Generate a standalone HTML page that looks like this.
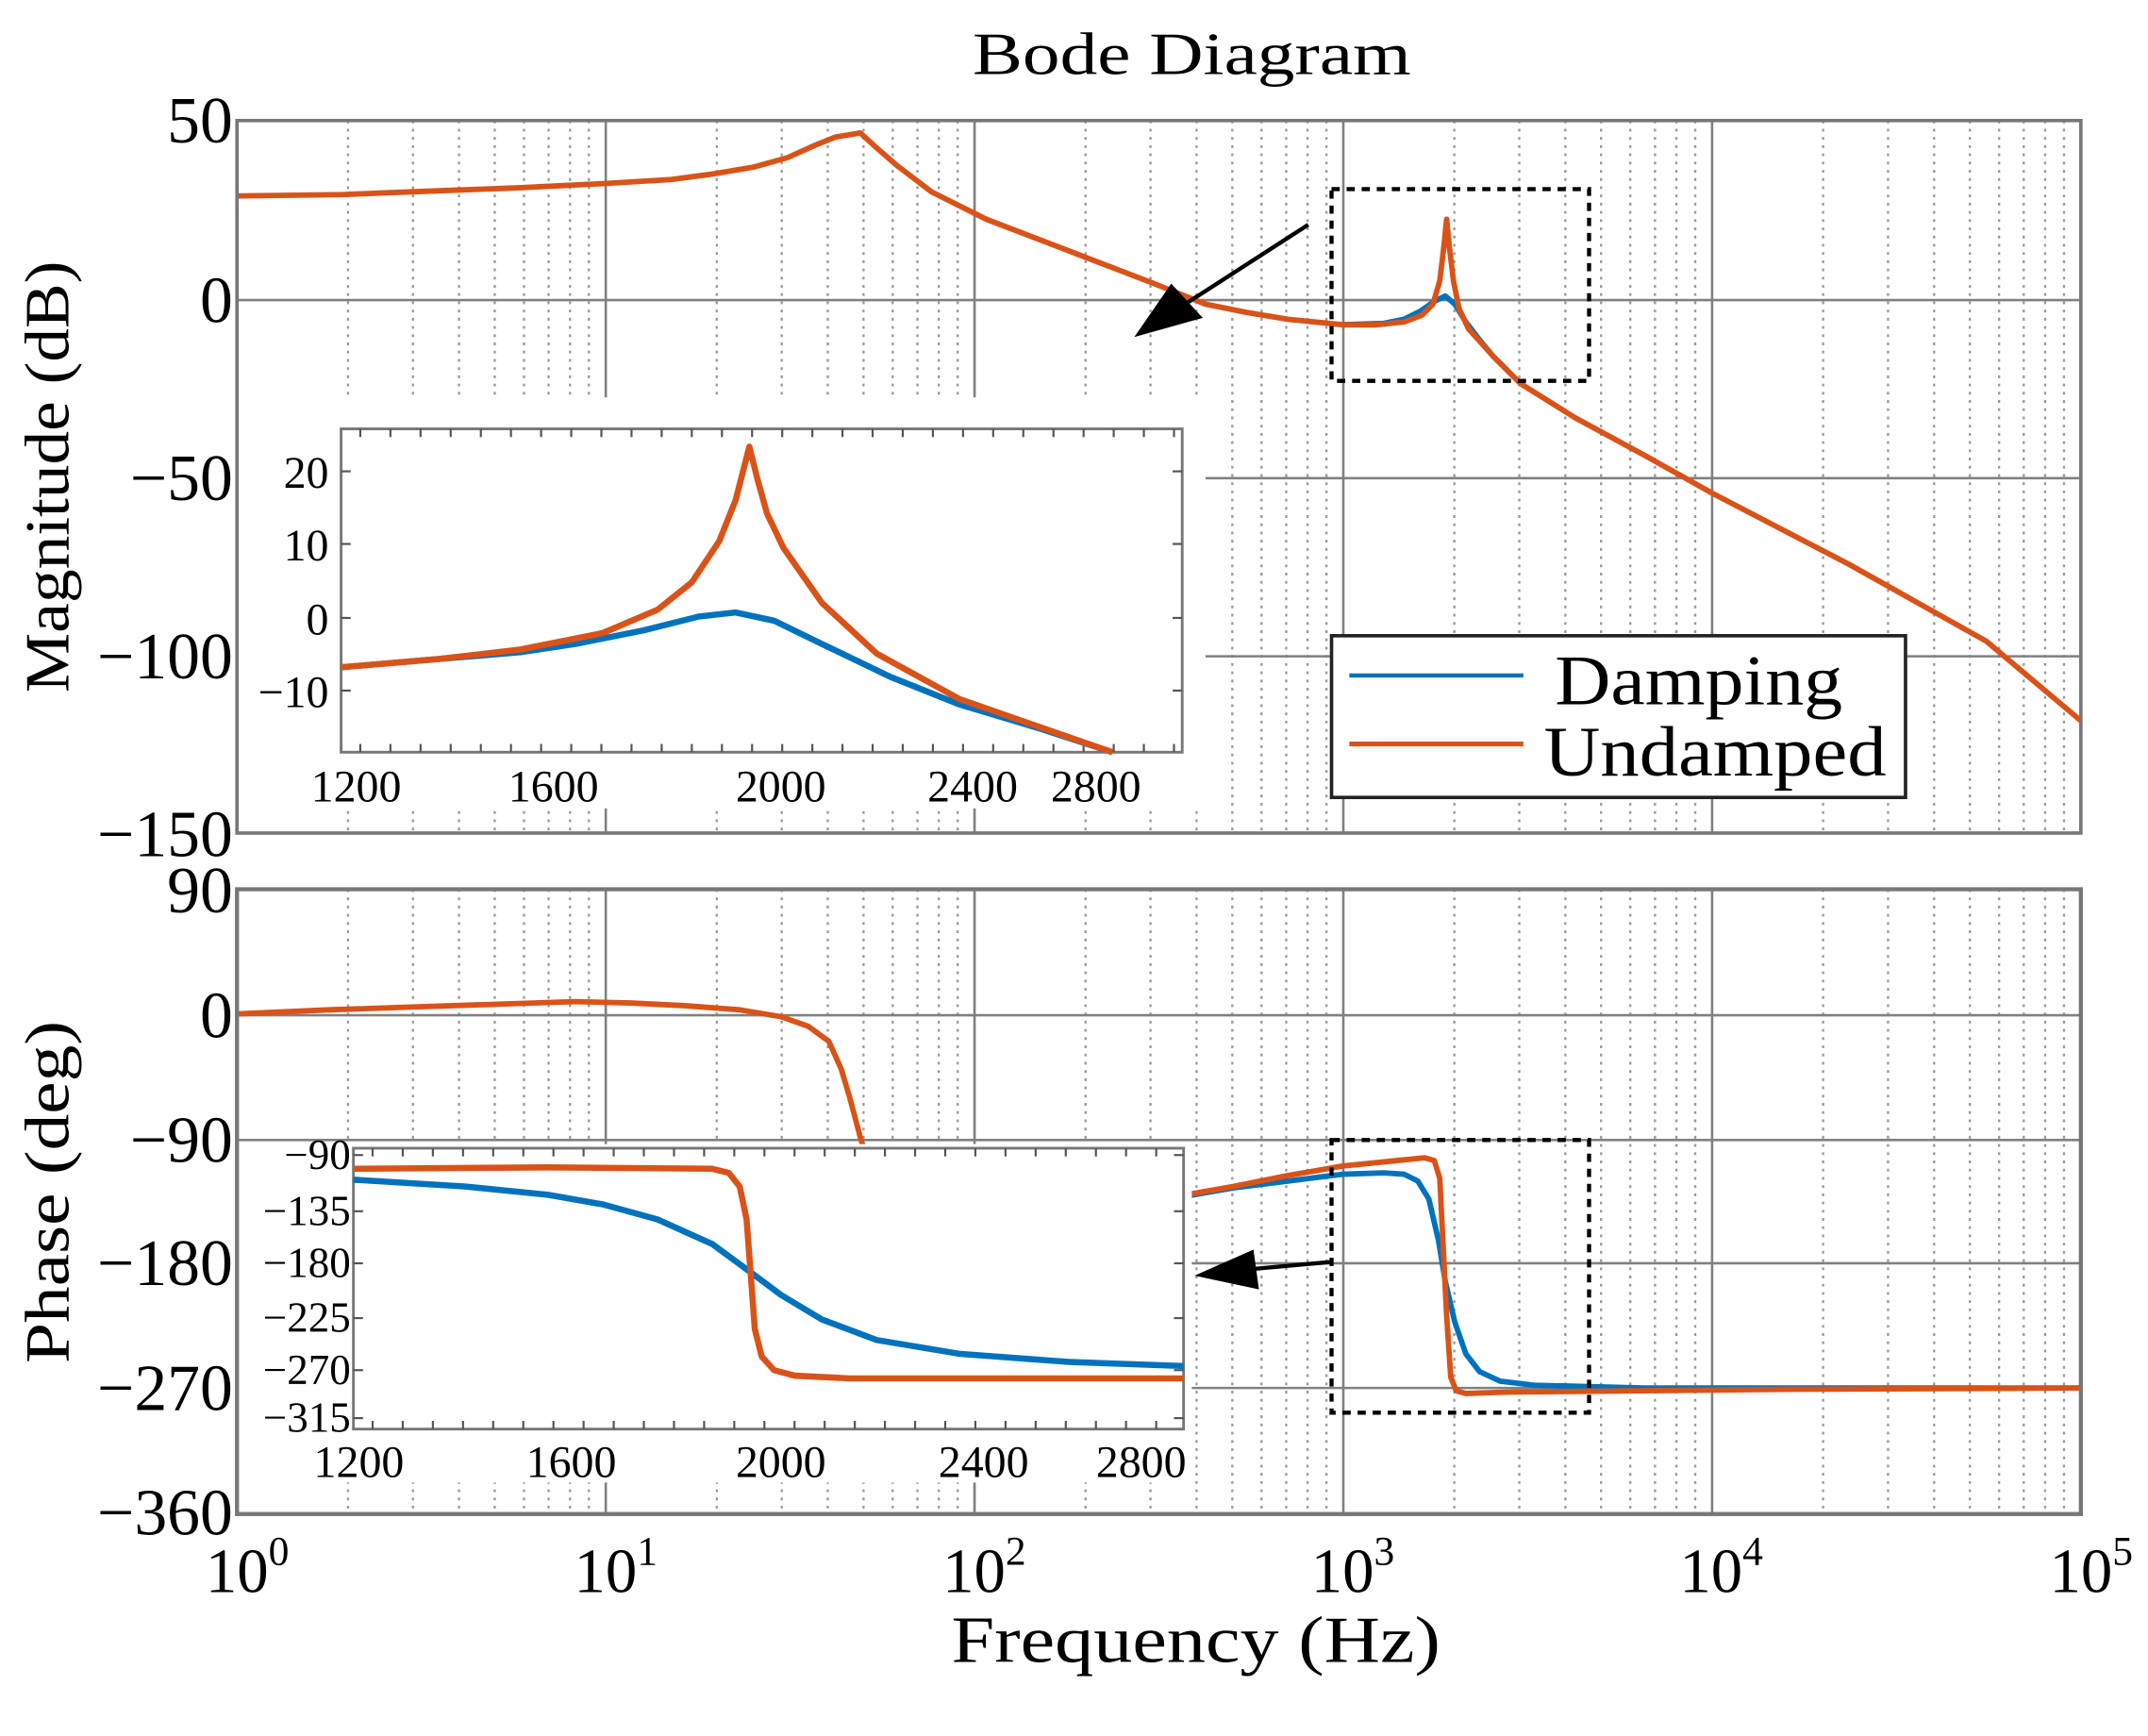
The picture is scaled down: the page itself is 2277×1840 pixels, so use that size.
<!DOCTYPE html>
<html><head><meta charset="utf-8"><style>html,body{margin:0;padding:0;background:#fff}svg{display:block}</style></head>
<body>
<svg id="s" xmlns="http://www.w3.org/2000/svg" width="2277" height="1840" viewBox="0 0 1568 1267" preserveAspectRatio="none" font-family="Liberation Serif, serif">
<rect width="1568" height="1267" fill="#fff"/>
<g id="grid"></g>
<polyline fill="none" stroke="#0072BD" stroke-width="4" stroke-linejoin="round" points="980,237 1010,236 1025,233 1037,227 1047,220 1055,216 1062,222 1070,235 1080,248 1090,260 1110,280"/>
<polyline fill="none" stroke="#D95319" stroke-width="4" stroke-linejoin="round" points="173,143 250,142 300,140 380,137 440,134 490,131 520,127 550,122 575,115 595,106 610,100 628,97 640,108 655,121 680,140 720,160 780,183 840,206 880,222 910,228 940,233 980,237 1005,237 1025,235 1038,230 1046,222 1051,205 1054,180 1056,160 1058,180 1061,205 1065,225 1072,240 1090,260 1110,280 1150,305 1200,332 1250,360 1300,386 1350,412 1400,440 1450,468 1519,526"/>
<polyline fill="none" stroke="#0072BD" stroke-width="4" stroke-linejoin="round" points="860,874 900,867 940,862 980,857 1010,856 1025,857 1035,862 1043,875 1050,905 1055,935 1062,965 1070,988 1080,1001 1095,1008 1120,1011 1200,1013 1519,1013"/>
<polyline fill="none" stroke="#D95319" stroke-width="4" stroke-linejoin="round" points="173,740 240,737 300,735 360,733 420,731 460,732 500,734 540,737 570,742 590,749 605,760 614,780 620,800 628,830 640,870 860,873 900,866 940,858 980,851 1020,847 1040,845 1047,847 1051,860 1053,900 1056,960 1059,1005 1063,1015 1070,1017 1100,1016 1300,1014 1519,1013"/>
<rect x="173" y="290" width="707" height="300" fill="#fff"/>
<rect x="249" y="313" width="614" height="236" fill="#fff" stroke="#777" stroke-width="2"/>
<g id="t1"></g>
<polyline fill="none" stroke="#0072BD" stroke-width="4.5" stroke-linejoin="round" points="249,487 320,481 380,476 420,470 470,460 510,450 537,447 565,453 600,470 650,494 700,514 760,532 812,549"/>
<polyline fill="none" stroke="#D95319" stroke-width="4.5" stroke-linejoin="round" points="249,487 320,481 380,474 440,462 480,445 505,425 525,395 537,365 547,326 553,350 560,375 572,400 600,440 640,477 700,510 760,531 812,549"/>
<g font-size="33" fill="#000" text-anchor="end">
<text x="240" y="356">20</text><text x="240" y="409">10</text><text x="240" y="463">0</text><text x="240" y="516">−10</text>
</g>
<g font-size="33" fill="#000" text-anchor="middle">
<text x="260" y="585">1200</text><text x="404" y="585">1600</text><text x="570" y="585">2000</text><text x="710" y="585">2400</text><text x="800" y="585">2800</text>
</g>
<rect x="173" y="835" width="697" height="247" fill="#fff"/>
<rect x="258" y="838" width="606" height="205" fill="#fff" stroke="#777" stroke-width="2"/>
<g id="t2"></g>
<polyline fill="none" stroke="#0072BD" stroke-width="4.5" stroke-linejoin="round" points="258,861 340,866 400,872 440,879 480,890 520,908 550,930 570,945 600,963 640,978 700,988 780,994 864,997"/>
<polyline fill="none" stroke="#D95319" stroke-width="4.5" stroke-linejoin="round" points="258,853 400,852 520,853 532,856 540,866 545,890 548,930 551,970 556,990 565,1000 580,1004 620,1006 864,1006"/>
<g font-size="31" fill="#000" text-anchor="end">
<text x="256" y="853">−90</text><text x="256" y="894">−135</text><text x="256" y="932">−180</text><text x="256" y="972">−225</text><text x="256" y="1010">−270</text><text x="256" y="1045">−315</text>
</g>
<g font-size="33" fill="#000" text-anchor="middle">
<text x="262" y="1078">1200</text><text x="417" y="1078">1600</text><text x="570" y="1078">2000</text><text x="718" y="1078">2400</text><text x="833" y="1078">2800</text>
</g>
<rect x="173" y="88" width="1346" height="520" fill="none" stroke="#777" stroke-width="2.5"/>
<rect x="173" y="649" width="1346" height="456" fill="none" stroke="#777" stroke-width="3"/>
<rect x="972" y="138" width="188" height="140" fill="none" stroke="#000" stroke-width="3" stroke-dasharray="6,5"/>
<rect x="972" y="832" width="188" height="199" fill="none" stroke="#000" stroke-width="3" stroke-dasharray="6,5"/>
<line x1="955" y1="164" x2="862" y2="224" stroke="#000" stroke-width="3"/>
<polygon points="828,246 855,207 878,232" fill="#000"/>
<line x1="972" y1="921" x2="905" y2="927" stroke="#000" stroke-width="3"/>
<polygon points="872,931 915,912 919,941" fill="#000"/>
<rect x="972" y="464" width="419" height="118" fill="#fff" stroke="#222" stroke-width="2.5"/>
<line x1="985" y1="493" x2="1112" y2="493" stroke="#0072BD" stroke-width="3"/>
<line x1="985" y1="543" x2="1112" y2="543" stroke="#D95319" stroke-width="3.5"/>
<text x="1135" y="514" font-size="52" textLength="210" lengthAdjust="spacingAndGlyphs">Damping</text>
<text x="1127" y="566" font-size="52" textLength="250" lengthAdjust="spacingAndGlyphs">Undamped</text>
<text x="870" y="54" font-size="44" text-anchor="middle" textLength="320" lengthAdjust="spacingAndGlyphs">Bode Diagram</text>
<text x="873" y="1213" font-size="48" text-anchor="middle" textLength="357" lengthAdjust="spacingAndGlyphs">Frequency  (Hz)</text>
<text transform="translate(50,348) rotate(-90)" font-size="46" text-anchor="middle" textLength="315" lengthAdjust="spacingAndGlyphs">Magnitude (dB)</text>
<text transform="translate(50,870) rotate(-90)" font-size="46" text-anchor="middle" textLength="250" lengthAdjust="spacingAndGlyphs">Phase (deg)</text>
<g font-size="48" text-anchor="end">
<text x="170" y="104">50</text><text x="170" y="235">0</text><text x="170" y="365">−50</text><text x="170" y="495">−100</text><text x="170" y="625">−150</text>
<text x="170" y="666">90</text><text x="170" y="757">0</text><text x="170" y="848">−90</text><text x="170" y="938">−180</text><text x="170" y="1029">−270</text><text x="170" y="1120">−360</text>
</g>
<g font-size="46">
<text x="150" y="1162">10<tspan font-size="30" dy="-20">0</tspan></text>
<text x="419" y="1162">10<tspan font-size="30" dy="-20">1</tspan></text>
<text x="688" y="1162">10<tspan font-size="30" dy="-20">2</tspan></text>
<text x="957" y="1162">10<tspan font-size="30" dy="-20">3</tspan></text>
<text x="1226" y="1162">10<tspan font-size="30" dy="-20">4</tspan></text>
<text x="1496" y="1162">10<tspan font-size="30" dy="-20">5</tspan></text>
</g>
<script>
(function(){
var NS="http://www.w3.org/2000/svg";
function L(g,x1,y1,x2,y2,c,w,d){var l=document.createElementNS(NS,"line");l.setAttribute("x1",x1);l.setAttribute("y1",y1);l.setAttribute("x2",x2);l.setAttribute("y2",y2);l.setAttribute("stroke",c);l.setAttribute("stroke-width",w);if(d)l.setAttribute("stroke-dasharray",d);g.appendChild(l);}
var g=document.getElementById("grid");
var x0=173,dec=269.2;
[[88,608],[649,1105]].forEach(function(r){
 for(var k=0;k<5;k++){for(var m=2;m<10;m++){var x=x0+dec*(k+Math.log10(m));L(g,x,r[0],x,r[1],"#999",1.6,"2,4");}
 if(k>0)L(g,x0+dec*k,r[0],x0+dec*k,r[1],"#808080",1.8);}
});
[219,349,479].forEach(function(y){L(g,173,y,1519,y,"#808080",1.8);});
[741,832,922,1013].forEach(function(y){L(g,173,y,1519,y,"#808080",1.8);});
var t1=document.getElementById("t1");
for(var x=263;x<863;x+=22){L(t1,x,313,x,319,"#555",1.5);L(t1,x,549,x,543,"#555",1.5);}
[344,397,451,504].forEach(function(y){L(t1,249,y,256,y,"#555",1.5);L(t1,863,y,856,y,"#555",1.5);});
var t2=document.getElementById("t2");
for(var x=272;x<864;x+=22){L(t2,x,838,x,844,"#555",1.5);L(t2,x,1043,x,1037,"#555",1.5);}
[843,884,922,962,1000,1035].forEach(function(y){L(t2,258,y,265,y,"#555",1.5);L(t2,864,y,857,y,"#555",1.5);});
})();
</script>
</svg>
</body></html>
